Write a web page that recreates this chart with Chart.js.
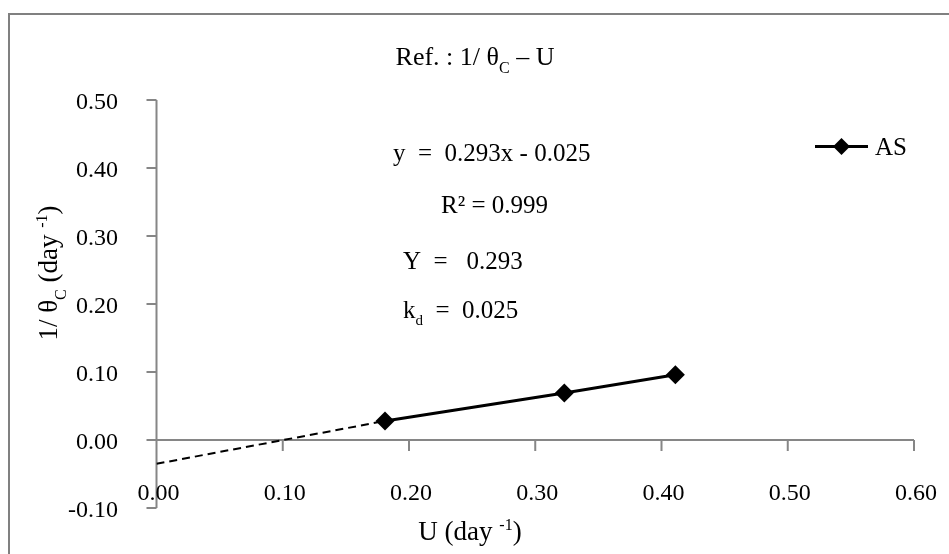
<!DOCTYPE html>
<html>
<head>
<meta charset="utf-8">
<script src="https://cdn.jsdelivr.net/npm/chart.js@4.4.0/dist/chart.umd.min.js"></script>
<style>
html, body { margin: 0; padding: 0; background: #fff; }
#wrap { width: 949px; height: 554px; }
</style>
</head>
<body>
<div id="wrap"><canvas id="chart" width="949" height="554"></canvas></div>
<script>
// AS series: specific growth rate U vs 1/theta_c
var uValues = [0.181, 0.323, 0.411];
var invTheta = [0.028, 0.069, 0.096];
// extrapolated dashed segment back to the y axis
var trendU = [0, 0.181];
var trendY = [-0.035, 0.028];
var xTicks = [0, 0.1, 0.2, 0.3, 0.4, 0.5, 0.6];
var yTicks = [-0.1, 0, 0.1, 0.2, 0.3, 0.4, 0.5];
var slope = 0.293;
var intercept = 0.025;
var rSquared = 0.999;
var seriesName = 'AS';

var FONT = '"Liberation Serif", "Times New Roman", serif';
var AXIS = '#868686';

function pts(xs, ys) {
    return xs.map(function (x, i) { return { x: x, y: ys[i] }; });
}

// draws a run of text pieces: [text, size, baselineShift]
function drawRich(ctx, parts, x, y, align) {
    var total = 0;
    parts.forEach(function (p) {
        ctx.font = p[1] + 'px ' + FONT;
        total += ctx.measureText(p[0]).width;
    });
    var cx = align === 'center' ? x - total / 2 : (align === 'right' ? x - total : x);
    ctx.textAlign = 'left';
    ctx.textBaseline = 'alphabetic';
    parts.forEach(function (p) {
        ctx.font = p[1] + 'px ' + FONT;
        ctx.fillText(p[0], cx, y + (p[2] || 0));
        cx += ctx.measureText(p[0]).width;
    });
}

function diamond(ctx, x, y, r) {
    ctx.beginPath();
    ctx.moveTo(x, y - r);
    ctx.lineTo(x + r, y);
    ctx.lineTo(x, y + r);
    ctx.lineTo(x - r, y);
    ctx.closePath();
    ctx.fill();
}

var decorations = {
    id: 'decorations',
    beforeDraw: function (chart) {
        var ctx = chart.ctx;
        ctx.save();
        ctx.fillStyle = '#fff';
        ctx.fillRect(0, 0, chart.width, chart.height);
        // outer frame
        ctx.strokeStyle = '#808080';
        ctx.lineWidth = 2;
        ctx.beginPath();
        ctx.moveTo(9, chart.height);
        ctx.lineTo(9, 14);
        ctx.lineTo(chart.width, 14);
        ctx.stroke();
        ctx.restore();
    },
    beforeDatasetsDraw: function (chart) {
        var ctx = chart.ctx;
        var xs = chart.scales.x, ys = chart.scales.y;
        var x0 = xs.getPixelForValue(0);
        var y0 = ys.getPixelForValue(0);
        ctx.save();
        ctx.strokeStyle = AXIS;
        ctx.lineWidth = 2;
        ctx.beginPath();
        // value axis with ticks pointing left
        ctx.moveTo(x0, ys.getPixelForValue(yTicks[0]));
        ctx.lineTo(x0, ys.getPixelForValue(yTicks[yTicks.length - 1]));
        yTicks.forEach(function (v) {
            var py = ys.getPixelForValue(v);
            ctx.moveTo(x0 - 10, py);
            ctx.lineTo(x0, py);
        });
        // category axis crossing at zero, ticks pointing down
        ctx.moveTo(x0, y0);
        ctx.lineTo(xs.getPixelForValue(xTicks[xTicks.length - 1]), y0);
        xTicks.forEach(function (v) {
            var px = xs.getPixelForValue(v);
            ctx.moveTo(px, y0);
            ctx.lineTo(px, y0 + 11);
        });
        ctx.stroke();

        ctx.fillStyle = '#000';
        ctx.font = '24px ' + FONT;
        ctx.textAlign = 'right';
        ctx.textBaseline = 'alphabetic';
        yTicks.forEach(function (v) {
            ctx.fillText(v.toFixed(2), 118, ys.getPixelForValue(v) + 8.5);
        });
        ctx.textAlign = 'center';
        xTicks.forEach(function (v) {
            ctx.fillText(v.toFixed(2), xs.getPixelForValue(v) + 2, 500);
        });

        // titles
        drawRich(ctx, [['Ref. : 1/ \u03b8', 26], ['C', 16, 8], [' \u2013 U', 26]], 475, 65, 'center');
        drawRich(ctx, [['U (day ', 27], ['-1', 16, -10], [')', 27]], 470, 540, 'center');
        ctx.save();
        ctx.translate(57, 273);
        ctx.rotate(-Math.PI / 2);
        drawRich(ctx, [['1/ \u03b8', 27], ['C', 16, 9], [' (day ', 27], ['-1', 16, -10], [')', 27]], 0, 0, 'center');
        ctx.restore();

        // regression notes
        drawRich(ctx, [['y  =  ' + slope.toFixed(3) + 'x - ' + intercept.toFixed(3), 25]], 393, 161, 'left');
        drawRich(ctx, [['R\u00b2 = ' + rSquared.toFixed(3), 25]], 441, 213, 'left');
        drawRich(ctx, [['Y  =   ' + slope.toFixed(3), 25]], 403, 269, 'left');
        drawRich(ctx, [['k', 25], ['d', 15, 7], ['  =  ' + intercept.toFixed(3), 25]], 403, 318, 'left');

        // legend
        ctx.strokeStyle = '#000';
        ctx.lineWidth = 3;
        ctx.beginPath();
        ctx.moveTo(815, 146.5);
        ctx.lineTo(868, 146.5);
        ctx.stroke();
        ctx.fillStyle = '#000';
        diamond(ctx, 841.5, 146.5, 8.5);
        drawRich(ctx, [[seriesName, 25]], 875, 155, 'left');
        ctx.restore();
    }
};

var ctx = document.getElementById('chart').getContext('2d');
var myChart = new Chart(ctx, {
    type: 'scatter',
    data: {
        datasets: [{
            label: 'trend',
            data: pts(trendU, trendY),
            showLine: true,
            borderColor: '#000',
            borderWidth: 2,
            borderDash: [8, 5],
            pointRadius: 0
        }, {
            label: seriesName,
            data: pts(uValues, invTheta),
            showLine: true,
            borderColor: '#000',
            borderWidth: 3,
            backgroundColor: '#000',
            pointStyle: 'rectRot',
            pointRadius: 9.5,
            pointBorderWidth: 0
        }]
    },
    options: {
        responsive: false,
        animation: false,
        layout: { padding: { left: 156.5, right: 35, top: 100, bottom: 46 } },
        plugins: { legend: { display: false }, tooltip: { enabled: false } },
        scales: {
            x: { type: 'linear', display: false, min: 0, max: 0.6 },
            y: { type: 'linear', display: false, min: -0.1, max: 0.5 }
        }
    },
    plugins: [decorations]
});
</script>
</body>
</html>
